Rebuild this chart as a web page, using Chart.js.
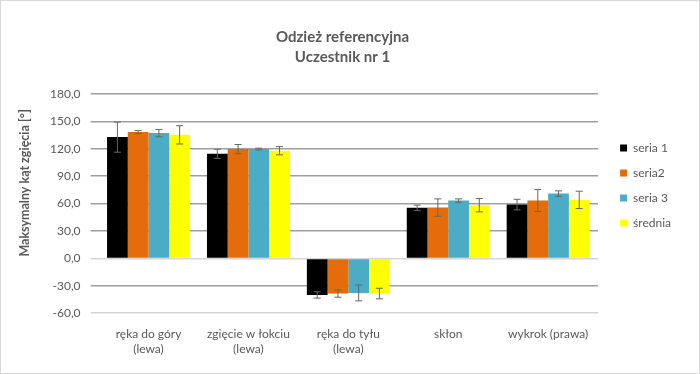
<!DOCTYPE html>
<html>
<head>
<meta charset="utf-8">
<script src="https://cdn.jsdelivr.net/npm/chart.js@4.4.1/dist/chart.umd.min.js"></script>
<style>
  html, body { margin: 0; padding: 0; background: #fff; }
  #wrap { width: 698px; height: 372px; border: 1px solid #d9d9d9; }
</style>
</head>
<body>
<div id="wrap"><canvas id="wykres"></canvas></div>
<script>
// kategorie i wartości
const kategorie = [['ręka do góry', '(lewa)'], ['zgięcie w łokciu', '(lewa)'], ['ręka do tyłu', '(lewa)'], 'skłon', 'wykrok (prawa)'];
const seria1 = [132.7, 114.5, -40.0, 55.3, 58.9];
const seria2 = [138.2, 119.6, -38.5, 55.6, 63.3];
const seria3 = [137.1, 119.6, -37.8, 63.3, 70.9];
const srednia = [135.2, 117.8, -38.5, 58.2, 64.0];

// odchylenia (słupki błędów)
const blad1 = [16.5, 5.0, 3.5, 3.0, 5.8];
const blad2 = [1.6, 5.0, 4.0, 9.5, 12.0];
const blad3 = [4.0, 1.0, 8.7, 1.8, 3.0];
const bladSr = [10.0, 4.5, 5.8, 7.3, 9.5];

const yMin = -60, yMax = 180, yKrok = 30;

const szary = '#595959';

// rysowanie słupków błędów przez skalę osi y
const slupkiBledow = {
    id: 'slupkiBledow',
    afterDatasetsDraw(chart) {
        const ctx = chart.ctx;
        const y = chart.scales.y;
        ctx.save();
        ctx.strokeStyle = '#666666';
        ctx.lineWidth = 1;
        chart.data.datasets.forEach((ds, d) => {
            const meta = chart.getDatasetMeta(d);
            meta.data.forEach((bar, i) => {
                const v = ds.data[i];
                const e = ds.bledy[i];
                const y1 = y.getPixelForValue(v + e);
                const y2 = y.getPixelForValue(v - e);
                ctx.beginPath();
                ctx.moveTo(bar.x, y1);
                ctx.lineTo(bar.x, y2);
                ctx.moveTo(bar.x - 3.5, y1);
                ctx.lineTo(bar.x + 3.5, y1);
                ctx.moveTo(bar.x - 3.5, y2);
                ctx.lineTo(bar.x + 3.5, y2);
                ctx.stroke();
            });
        });
        ctx.restore();
    }
};

// legenda odsunięta od obszaru wykresu
const przesunLegende = {
    id: 'przesunLegende',
    afterLayout(chart) {
        const l = chart.legend;
        l.left += 9; l.right += 9;
        l.top += 4; l.bottom += 4;
    }
};

Chart.defaults.font.family = 'Lato, "Noto Sans", sans-serif';
Chart.defaults.color = szary;

new Chart(document.getElementById('wykres'), {
    type: 'bar',
    data: {
        labels: kategorie,
        datasets: [
            { label: 'seria 1', data: seria1, bledy: blad1, backgroundColor: '#000000' },
            { label: 'seria2', data: seria2, bledy: blad2, backgroundColor: '#E46C0A' },
            { label: 'seria 3', data: seria3, bledy: blad3, backgroundColor: '#4BACC6' },
            { label: 'średnia', data: srednia, bledy: bladSr, backgroundColor: '#FFFF00' },
        ],
    },
    options: {
        responsive: true,
        maintainAspectRatio: false,
        animation: false,
        barPercentage: 1.0,
        categoryPercentage: 0.83,
        layout: { padding: { left: 12, right: 27, bottom: 11 } },
        plugins: {
            title: {
                display: true,
                text: ['Odzież referencyjna', 'Uczestnik nr 1'],
                color: szary,
                font: { size: 15, weight: 'bold', lineHeight: 1.33 },
                padding: { top: 26, bottom: 27 },
            },
            legend: {
                position: 'right',
                labels: {
                    color: szary,
                    font: { size: 12 },
                    boxWidth: 7,
                    boxHeight: 7,
                    padding: 13,
                },
            },
            tooltip: { enabled: false },
        },
        scales: {
            x: {
                grid: { display: false },
                border: { display: false },
                ticks: {
                    color: szary,
                    font: { size: 12 },
                    maxRotation: 0,
                    autoSkip: false,
                    padding: 6,
                },
            },
            y: {
                min: yMin,
                max: yMax,
                border: { display: false },
                grid: {
                    color: (c) => (c.tick && (c.tick.value === 0 || c.tick.value === yMin)) ? '#d4d4d4' : '#9f9f9f',
                    lineWidth: 1.5,
                    tickLength: 8,
                },
                ticks: {
                    stepSize: yKrok,
                    color: szary,
                    font: { size: 12 },
                    padding: 10,
                    callback: (v) => v.toFixed(1).replace('.', ','),
                },
                title: {
                    display: true,
                    text: 'Maksymalny kąt zgięcia [°]     ',
                    align: 'end',
                    color: szary,
                    font: { size: 12.5, weight: 'bold' },
                    padding: { bottom: 8 },
                },
            },
        },
    },
    plugins: [slupkiBledow, przesunLegende],
});
</script>
</body>
</html>
